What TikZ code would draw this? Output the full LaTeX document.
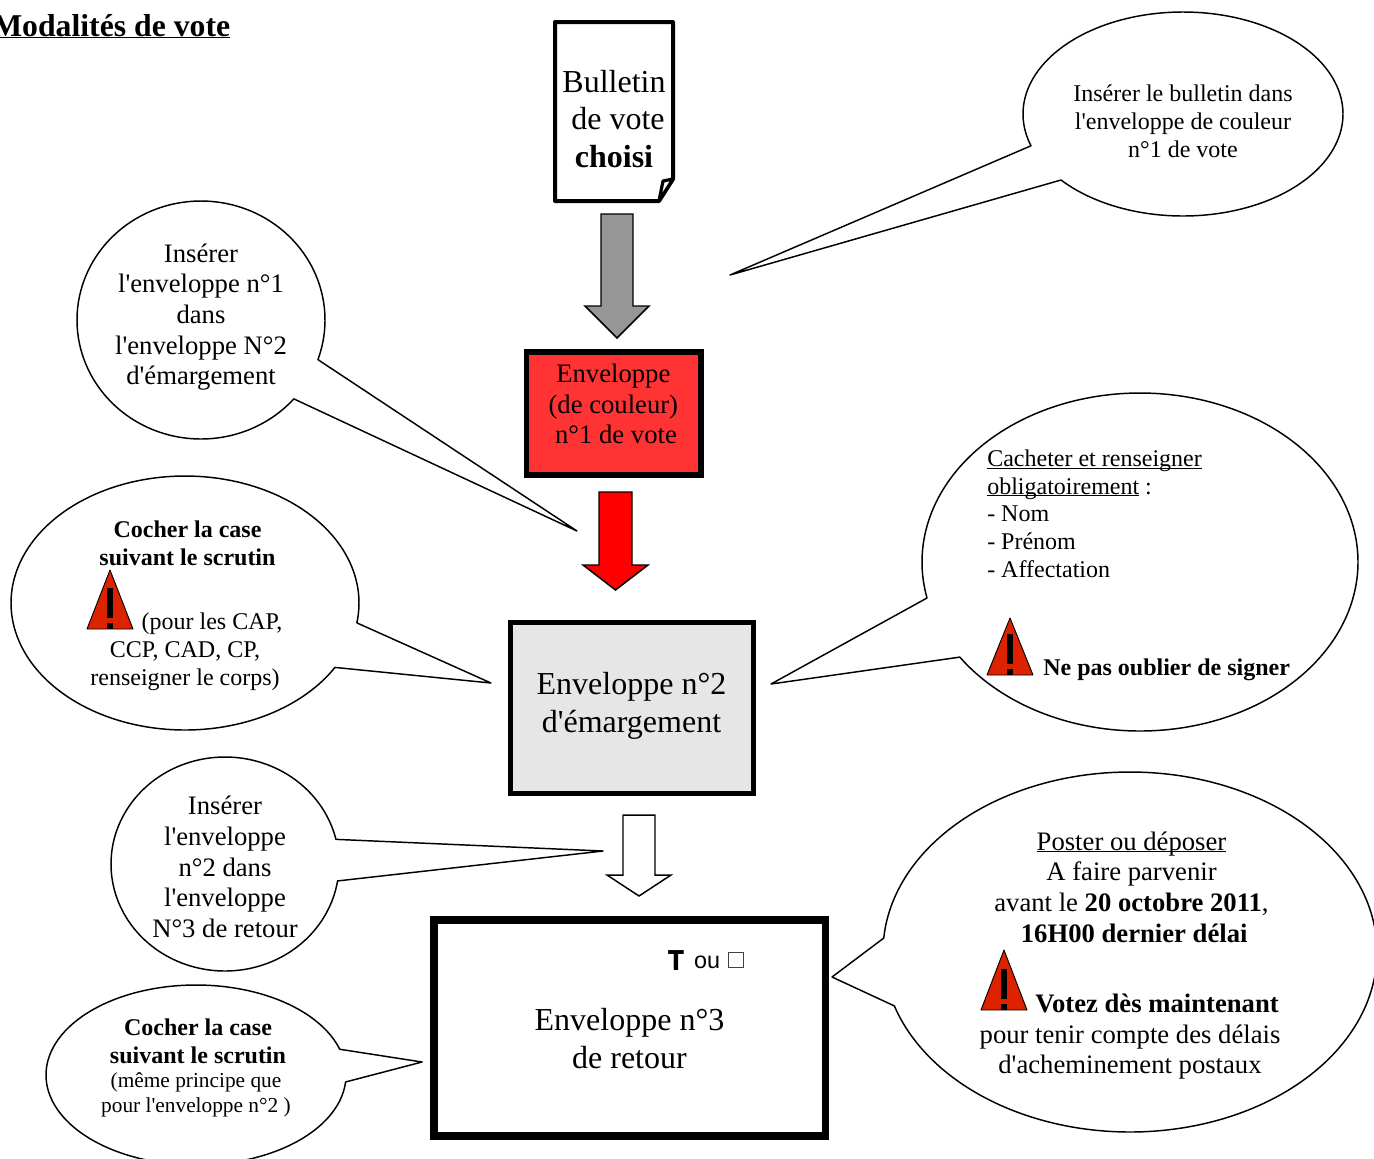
\documentclass[tikz,border=0pt]{standalone}
\usepackage{fontspec}
\usepackage{graphicx}
\setmainfont{Liberation Serif}
\newfontfamily\lsf{Liberation Serif}
\newfontfamily\arialf{Liberation Sans}
\newfontfamily\dejaf{DejaVu Sans}
\newcommand{\ulx}[1]{\setbox0\hbox{#1}\dimen0=\wd0 \copy0\llap{\rule[-1.7pt]{\dimen0}{0.8pt}}}
\newcommand{\callout}[9]{%
 \pgfmathsetmacro{\aone}{atan2((#7-#2)/#4,(#6-#1)/#3)}%
 \pgfmathsetmacro{\atwo}{atan2((#9-#2)/#4,(#8-#1)/#3)}%
 \pgfmathsetmacro{\atwofix}{\atwo<\aone ? \atwo+360 : \atwo}%
 \draw[bubble] plot[domain=\aone:\atwofix,samples=180,smooth] ({#1+#3*cos(\x)},{#2+#4*sin(\x)}) -- (#5) -- cycle;}
\newcommand{\warn}[3]{%
 \draw[black,line width=0.7pt,fill=warnred,line join=round] (#1-23,#2) -- (#1,#2-#3) -- (#1+23,#2) -- cycle;
 \fill[black] (#1-2.8,#2-41) rectangle (#1+2.8,#2-11);
 \fill[black] (#1-2.8,#2-6) rectangle (#1+2.8,#2);}
\newcommand{\blockarrow}[7]{%
 \draw[line width=1.1pt,fill=#7,line join=miter] (#1,#3) -- (#2,#3) -- (#2,#4) -- (#6,#4) -- ({(#1+#2)/2},#5) -- (#1-16,#4) -- (#1,#4) -- cycle;}
\definecolor{warnred}{HTML}{DD2200}
\definecolor{envred}{HTML}{FF3333}
\definecolor{envgrey}{HTML}{E6E6E6}
\definecolor{arrgrey}{HTML}{969696}
\definecolor{sqgrey}{HTML}{404040}
\tikzset{
 bubble/.style={draw=black,line width=1.1pt,fill=white,line join=round},
 txt/.style={inner sep=0pt,align=center,font=\lsf\fontsize{20}{23}\selectfont},
 small/.style={inner sep=0pt,align=center,font=\lsf\fontsize{18}{21}\selectfont},
 tiny/.style={inner sep=0pt,align=center,font=\lsf\fontsize{16}{18.8}\selectfont},
 big/.style={inner sep=0pt,align=center,font=\lsf\fontsize{24}{28.3}\selectfont},
}
\begin{document}
\begin{tikzpicture}[x=0.75pt,y=-0.75pt]
\useasboundingbox (0,0) rectangle (1374,1158);
\clip (0,0) rectangle (1374,1158);
\fill[white] (0,0) rectangle (1374,1158);
\node[anchor=base west,inner sep=0pt,font=\lsf\fontsize{23.8}{26}\selectfont\bfseries] (title) at (-8,36) {\ulx{Modalités de vote}};
% bulletin
\draw[line width=3pt,line join=round,fill=white] (555,22) -- (673,22) -- (673,179) -- (659,201) -- (555,201) -- cycle;
\draw[line width=2.4pt,line join=round,fill=white] (673,179) -- (659,201) -- (663,181) -- cycle;
\node[big] (bulletin) at (614,119) {Bulletin\\ \ de vote\\ \textbf{choisi}};
% arrows
\blockarrow{601}{633}{214}{306}{338}{649}{arrgrey}
\blockarrow{599}{632}{492}{565}{590}{648}{red}
\blockarrow{623}{655}{815}{875}{896}{671}{white}
% envelopes
\node[draw,line width=4.3pt,fill=envred,minimum width=131pt,minimum height=92pt,inner sep=0pt] (env1) at (613.7,413.6) {};
\node[txt] (env1t) at (616,404) {Enveloppe\kern4pt\\(de couleur)\kern4pt\\n°1 de vote};
\node[draw,line width=4.2pt,fill=envgrey,minimum width=182.5pt,minimum height=128pt,inner sep=0pt] (env2) at (632,708) {};
\node[big,font=\lsf\fontsize{24}{28}\selectfont] (env2t) at (631.5,706) {Enveloppe n°2\\d'émargement};
\node[draw,line width=5.6pt,minimum width=293.8pt,minimum height=162pt,inner sep=0pt,fill=white] (env3) at (629.7,1027.8) {};
\node[big] (env3t) at (629.5,1038.5) {Enveloppe n°3\\de retour};
\node[anchor=base,inner sep=0pt,font=\dejaf\bfseries\fontsize{20.5}{22}\selectfont] (tee) at (676,970) {\scalebox{0.85}[1]{T}};
\node[anchor=base,inner sep=0pt,font=\arialf\fontsize{17.5}{20}\selectfont] (ou) at (707,968) {ou};
\node[draw=sqgrey,line width=0.6pt,minimum width=11.5pt,minimum height=11.5pt,inner sep=0pt] (sq) at (736,960) {};
% callouts
\callout{1183}{114}{160}{102}{730,275}{1030}{146}{1061}{180}
\node[small] (c1) at (1183,121) {Insérer le bulletin dans\\l'enveloppe de couleur\\n°1 de vote};
\callout{201}{320}{124}{119}{577,531}{294}{399}{319}{360}
\node[txt] (c2) at (201,317) {Insérer\\l'enveloppe n°1\\dans\\l'enveloppe N°2\\d'émargement};
\callout{185}{603}{174}{127}{491,683}{334}{667}{358}{623}
\node[small] (c3a) at (187.5,543) {\textbf{Cocher la case}\\\textbf{suivant le scrutin}};
\node[small,anchor=base] (c3b) at (212,629) {(pour les CAP,};
\node[small] (c3c) at (185,666) {CCP, CAD, CP,\\renseigner le corps)};
\warn{110}{629}{59}
\callout{1140}{562}{218}{169}{771,684}{927}{598}{960}{657}
\node[small,align=left,anchor=north west,font=\lsf\fontsize{18}{20.8}\selectfont] (c4) at (987,449.5) {\ulx{Cacheter et renseigner}\\\ulx{obligatoirement} :\\- Nom\\- Prénom\\- Affectation};
\warn{1010}{675}{57}
\node[small,anchor=base west] (c4b) at (1043,675) {\textbf{Ne pas oublier de signer}};
\callout{225}{864}{114}{107}{603,851}{338}{881}{333}{840}
\node[txt] (c5) at (225,867) {Insérer\\l'enveloppe\\n°2 dans\\l'enveloppe\\N°3 de retour};
\callout{1130}{952}{247}{180}{832,977}{883}{938}{894}{1006}
\node[txt] (c6) at (1131.5,887) {\ulx{Poster ou déposer}\\A faire parvenir\\avant le \textbf{20 octobre 2011},\\\hspace*{4pt}\textbf{16H00 dernier délai}};
\warn{1004}{1010}{60}
\node[txt,anchor=base west] (c6b) at (1035,1012) {\textbf{Votez dès maintenant}};
\node[txt] (c6c) at (1130,1052) {pour tenir compte des délais\\d'acheminement postaux};
\callout{196}{1075}{150}{90}{422,1062}{346}{1082}{341}{1049}
\node[small] (c7a) at (198,1041.5) {\textbf{Cocher la case}\\\textbf{suivant le scrutin}};
\node[tiny] (c7b) at (196,1095) {(même principe que\\pour l'enveloppe n°2 )};
\end{tikzpicture}
\end{document}
